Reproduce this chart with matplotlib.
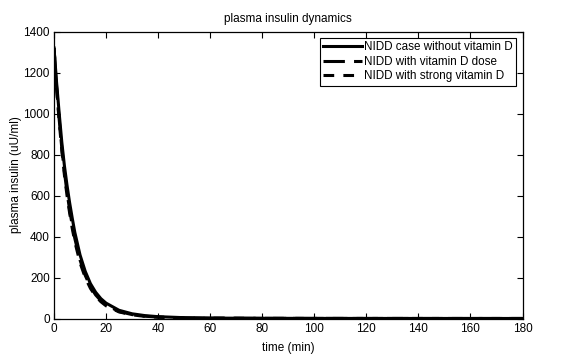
import matplotlib
matplotlib.use("Agg")
from matplotlib import pyplot as plt

# values
time_min = [0, 1, 2, 3, 4, 5, 6, 7, 8, 10, 12, 14, 16, 18, 20, 25, 30, 35, 40,
            50, 60, 80, 100, 120, 150, 180]
no_vitd = [1320, 1150, 1000, 860, 745, 650, 565, 490, 420, 310, 230, 170, 128,
           97, 75, 40, 23, 14, 9, 4, 2, 1, 0.5, 0.3, 0.2, 0.1]
vitd_dose = [1320, 1130, 970, 830, 715, 615, 530, 455, 390, 285, 210, 155, 115,
             87, 66, 34, 19, 11, 7, 3, 1.5, 0.7, 0.4, 0.2, 0.1, 0.1]
vitd_strong = [1320, 1120, 960, 820, 700, 600, 515, 440, 375, 272, 200, 147,
               109, 82, 62, 32, 18, 10, 6, 3, 1.5, 0.6, 0.3, 0.2, 0.1, 0.1]

labels = ["NIDD case without vitamin D", "NIDD with vitamin D dose",
          "NIDD with strong vitamin D"]

plt.rcParams['font.family'] = ['Liberation Sans', 'DejaVu Sans']
plt.rcParams['font.size'] = 8.5

fig = plt.figure(figsize=(5.63, 3.64), dpi=100)
ax = fig.add_axes([54 / 563, 1 - 318.5 / 364, 468.5 / 563, 287 / 364])

ax.plot(time_min, no_vitd, color="black", lw=2.2, label=labels[0])
ax.plot(time_min, vitd_dose, color="black", lw=2.2, dashes=(7, 3),
        label=labels[1])
ax.plot(time_min, vitd_strong, color="black", lw=2.2, dashes=(3.5, 3),
        label=labels[2])

ax.set_xlim(0, 180)
ax.set_ylim(0, 1400)
ax.set_xticks(range(0, 181, 20))
ax.set_yticks(range(0, 1401, 200))
ax.tick_params(direction="in", top=True, right=True, length=4, width=0.8,
               labelsize=8.5, pad=3)
for s in ax.spines.values():
    s.set_linewidth(0.9)

ax.set_title("plasma insulin dynamics", fontsize=8.5, pad=7)
ax.set_xlabel("time (min)", fontsize=8.5, labelpad=5)
ax.set_ylabel("plasma insulin (uU/ml)", fontsize=8.5, labelpad=1)

leg = ax.legend(loc="upper right", fontsize=8.4, handlelength=3.3,
                handletextpad=0.2, borderpad=0.3, labelspacing=0.2,
                fancybox=False, framealpha=1, borderaxespad=0.55)
leg.get_frame().set_edgecolor("black")
leg.get_frame().set_linewidth(0.8)

fig.savefig("out.png", dpi=100)
